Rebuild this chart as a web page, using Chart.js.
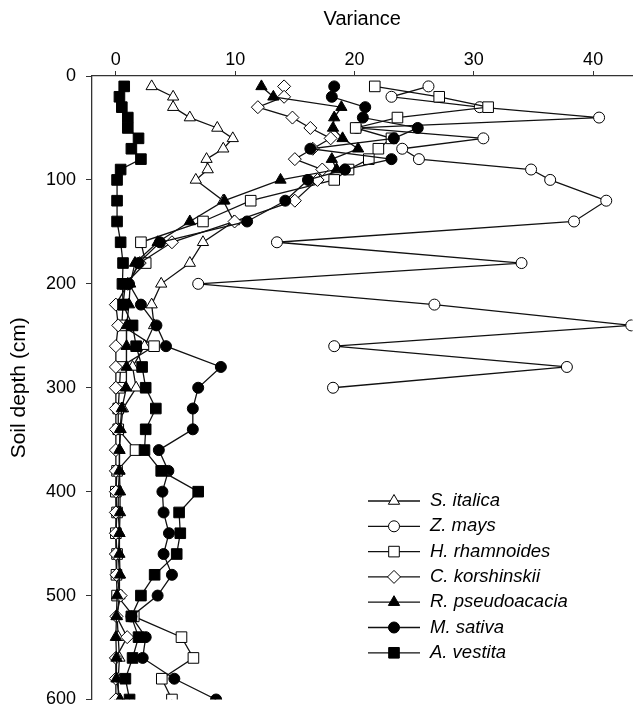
<!DOCTYPE html>
<html>
<head>
<meta charset="utf-8">
<script src="https://cdn.jsdelivr.net/npm/chart.js@4.4.0/dist/chart.umd.min.js"></script>
<style>
  html, body { margin: 0; padding: 0; background: #fff; overflow: hidden; }
  #wrap { width: 641px; height: 708px; }
</style>
</head>
<body>
<div id="wrap"><canvas id="c"></canvas></div>
<script>
// soil depth (cm) of each sample
const depths = [10, 20, 30, 40, 50, 60, 70, 80, 90, 100,
  120, 140, 160, 180, 200, 220, 240, 260, 280, 300,
  320, 340, 360, 380, 400, 420, 440, 460, 480, 500,
  520, 540, 560, 580, 600];

// variance per species
const sItalica = [3.0, 4.8, 4.8, 6.2, 8.5, 9.8, 9.0, 7.6, 7.7, 6.7,
  9.0, 9.9, 7.3, 6.2, 3.8, 3.0, 3.2, 2.4, 1.4, 1.7,
  0.6, 0.4, 0.3, 0.3, 0.2, 0.2, 0.3, 0.2, 0.3, 0.3,
  0.1, 0.2, 0.3, 0.2, 0.2];
const zMays = [26.2, 23.1, 30.5, 40.5, 20.2, 30.8, 24.0, 25.4, 34.8, 36.4,
  41.1, 38.4, 13.5, 34.0, 6.9, 26.7, 43.2, 18.3, 37.8, 18.2];
const hRhamnoides = [21.7, 27.1, 31.2, 23.6, 20.1, 23.1, 22.0, 21.2, 19.5, 18.3,
  11.3, 7.3, 2.1, 2.5, 0.8, 0.6, 0.5, 3.2, 0.4, 0.3,
  0.2, 0.2, 1.65, 0.1, 0.0, 0.1, 0.0, 0.1, 0.05, 0.1,
  1.5, 5.5, 6.5, 3.85, 4.7];
const cKorshinskii = [14.1, 14.1, 11.9, 14.8, 16.3, 18.0, 16.5, 15.0, 17.3, 16.9,
  15.0, 9.95, 4.7, 2.0, 1.0, 0.0, 0.2, 0.0, 0.0, 0.0,
  0.0, 0.0, 0.0, 0.0, 0.0, 0.0, 0.0, 0.0, 0.05, 0.4,
  0.05, 0.95, 0.0, 0.0, 0.0];
const rPseudoacacia = [12.2, 13.2, 18.9, 18.3, 18.2, 19.0, 20.3, 18.1, 18.5, 13.8,
  9.1, 6.2, 3.5, 1.6, 1.2, 1.1, 0.9, 0.9, 0.9, 0.85,
  0.5, 0.35, 0.3, 0.3, 0.35, 0.35, 0.3, 0.3, 0.35, 0.1,
  0.05, 0.0, 0.05, 0.05, 0.35];
const mSativa = [18.3, 18.1, 20.9, 20.7, 25.3, 23.3, 16.3, 23.1, 19.2, 16.1,
  14.2, 11.0, 3.7, 1.9, 1.1, 2.1, 3.4, 4.2, 8.8, 6.9,
  6.45, 6.45, 3.6, 4.4, 3.9, 4.0, 4.45, 4.0, 4.7, 3.5,
  1.3, 2.5, 2.25, 4.9, 8.4];
const aVestita = [0.7, 0.3, 0.5, 1.0, 1.0, 1.9, 1.3, 2.1, 0.4, 0.1,
  0.1, 0.1, 0.4, 0.6, 0.55, 0.6, 1.4, 1.7, 2.2, 2.5,
  3.35, 2.5, 2.4, 3.8, 6.9, 5.3, 5.4, 5.1, 3.25, 2.1,
  1.3, 1.9, 1.4, 0.8, 1.15];

const names = ['S. italica', 'Z. mays', 'H. rhamnoides', 'C. korshinskii',
  'R. pseudoacacia', 'M. sativa', 'A. vestita'];
const series = [sItalica, zMays, hRhamnoides, cKorshinskii, rPseudoacacia, mSativa, aVestita];

const xTicks = [0, 10, 20, 30, 40];
const yTicks = [0, 100, 200, 300, 400, 500, 600];

// marker look per series
const markers = [
  { style: 'triangle', fill: '#fff', r: 6.5 },
  { style: 'circle',   fill: '#fff', r: 5.5 },
  { style: 'rect',     fill: '#fff', r: 7.5 },
  { style: 'rectRot',  fill: '#fff', r: 6.5 },
  { style: 'triangle', fill: '#000', r: 6.5 },
  { style: 'circle',   fill: '#000', r: 5.5 },
  { style: 'rect',     fill: '#000', r: 7.5 }
];

const FONT = '"Liberation Sans", Arial, sans-serif';

const datasets = series.map((vals, i) => ({
  label: names[i],
  data: vals.map((v, k) => ({ x: v, y: depths[k] })),
  showLine: true,
  order: series.length - i, // later series drawn on top
  borderColor: '#111',
  borderWidth: 1.3,
  pointStyle: markers[i].style,
  pointRadius: markers[i].r,
  pointBackgroundColor: markers[i].fill,
  pointBorderColor: '#000',
  pointBorderWidth: 1
}));

// legend drawn by hand: line + marker + italic name
const sideLegend = {
  id: 'sideLegend',
  afterDraw(chart) {
    const ctx = chart.ctx;
    ctx.save();
    names.forEach((name, i) => {
      const y = 501 + i * 25.3;
      ctx.strokeStyle = '#111';
      ctx.lineWidth = 1.3;
      ctx.beginPath();
      ctx.moveTo(368, y);
      ctx.lineTo(420, y);
      ctx.stroke();
      ctx.fillStyle = markers[i].fill;
      ctx.strokeStyle = '#000';
      ctx.lineWidth = 1;
      Chart.helpers.drawPoint(ctx, { pointStyle: markers[i].style, radius: markers[i].r, rotation: 0, borderWidth: 1 }, 394, y);
      ctx.fillStyle = '#000';
      ctx.font = 'italic 18.5px ' + FONT;
      ctx.textBaseline = 'middle';
      ctx.textAlign = 'left';
      ctx.fillText(name, 430, y);
    });
    ctx.restore();
  }
};

new Chart(document.getElementById('c'), {
  type: 'scatter',
  data: { datasets },
  options: {
    responsive: true,
    maintainAspectRatio: false,
    animation: false,
    layout: { padding: { top: 0, left: 0, right: 0, bottom: 8 } },
    plugins: { legend: { display: false }, tooltip: { enabled: false } },
    scales: {
      x: {
        type: 'linear',
        position: 'top',
        min: -2,
        max: 43.3,
        afterBuildTicks: s => { s.ticks = xTicks.map(v => ({ value: v })); },
        afterFit: s => { s.height = 76; s.paddingLeft = 0; s.paddingRight = 0; },
        grid: { drawOnChartArea: false, drawTicks: true, tickLength: 5, color: '#333' },
        border: { color: '#333', width: 1.3 },
        ticks: { color: '#000', padding: 2, font: { family: FONT, size: 18, lineHeight: 1 } },
        title: {
          display: true, text: 'Variance', color: '#000',
          font: { family: FONT, size: 20, lineHeight: 1.2 },
          padding: { top: 7, bottom: 0 }
        }
      },
      y: {
        type: 'linear',
        reverse: true,
        min: 0,
        max: 600,
        afterBuildTicks: s => { s.ticks = yTicks.map(v => ({ value: v })); },
        afterFit: s => { s.width = 92; s.paddingTop = 0; s.paddingBottom = 0; },
        grid: { drawOnChartArea: false, drawTicks: true, tickLength: 6, color: '#333' },
        border: { color: '#333', width: 1.3 },
        ticks: { color: '#000', padding: 10, font: { family: FONT, size: 18, lineHeight: 1 } },
        title: {
          display: true, text: 'Soil depth (cm)', color: '#000',
          font: { family: FONT, size: 21, lineHeight: 1.2 },
          padding: { top: 7, bottom: 0 }
        }
      }
    }
  },
  plugins: [sideLegend]
});
</script>
</body>
</html>
